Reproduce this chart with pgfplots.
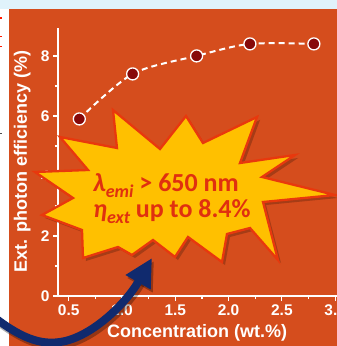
\documentclass[border=0pt]{standalone}
\usepackage{pgfplots}
\pgfplotsset{compat=1.18}
\usepackage{fontspec}
\setmainfont{Liberation Sans}
\newfontfamily\calfont{Carlito}
\usetikzlibrary{arrows.meta}
\definecolor{bgorange}{HTML}{D54D1D}
\definecolor{topblue}{HTML}{E0F2FB}
\definecolor{mkred}{HTML}{870A0A}
\definecolor{starfill}{HTML}{FFC000}
\definecolor{staredge}{HTML}{E8380D}
\definecolor{startext}{HTML}{E0300F}
\definecolor{navy}{HTML}{102A6E}
\tikzset{starp/.style={insert path={(113,-110) -- (160,-149) -- (186,-116) -- (203,-143) -- (257,-117) -- (240,-163) -- (295,-155) -- (262,-177) -- (335,-195) -- (263,-202) -- (278,-260) -- (250,-228) -- (227,-234) -- (222,-262) -- (188,-237) -- (175,-257) -- (153,-240) -- (132,-255) -- (118,-247) -- (83,-258) -- (82,-230) -- (42,-215) -- (73,-198) -- (35,-172) -- (88,-170) -- (60,-137) -- (117,-148) -- cycle}}}
\begin{document}
\begin{tikzpicture}[x=1pt,y=1pt]
\useasboundingbox (-58pt,296pt) rectangle (279pt,-50pt);
\clip (-58pt,296pt) rectangle (279pt,-50pt);
\begin{scope}[shift={(-58pt,296pt)}]
\fill[white] (0,0) rectangle (337,-346);
\fill[topblue] (0,0) rectangle (337,-9);
\fill[bgorange] (9,-9) rectangle (337,-346);
\fill[red!80!orange] (0,-17.5) rectangle (2,-19);
\fill[red!80!orange] (0,-36) rectangle (2,-37.5);
\fill[red!80!orange] (0,-46) rectangle (2,-47.5);
\fill[black!70] (0,-133) rectangle (2,-134.5);
\end{scope}
\begin{axis}[
  scale only axis, width=280.4pt, height=268pt,
  xmin=0.4, xmax=3.03, ymin=0, ymax=8.93,
  axis lines*=left,
  axis line style={white, line width=1.5pt},
  every tick/.style={white, line width=1.2pt},
  tick align=outside,
  major tick length=5pt, minor tick length=3pt,
  xtick={0.5,1.0,1.5,2.0,2.5,3.0},
  minor x tick num=1,
  ytick={0,2,4,6,8},
  minor y tick num=1,
  /pgf/number format/assume math mode=true,
  ticklabel style={text=white, font=\bfseries\fontsize{15.5}{15.5}\selectfont},
  xticklabel style={/pgf/number format/.cd, fixed, fixed zerofill, precision=1},
  yticklabel style={/pgf/number format/.cd, fixed, precision=0},
  xlabel={Concentration (wt.\%)},
  ylabel={Ext. photon efficiency (\%)},
  xlabel style={at={(rel axis cs:0.496,-0.138)}, anchor=center, text=white, font=\bfseries\fontsize{18}{18}\selectfont},
  ylabel style={at={(rel axis cs:-0.128,0.502)}, anchor=center, text=white, font=\bfseries\fontsize{18}{18}\selectfont},
  clip=false,
]
\addplot[white, line width=2pt, dash pattern=on 6pt off 4pt, smooth,
  mark=*, mark size=6pt, mark options={solid, fill=mkred, draw=white, line width=1.3pt}]
  coordinates {(0.6,5.9) (1.1,7.4) (1.7,8.0) (2.2,8.4) (2.8,8.4)};
\end{axis}
\begin{scope}[shift={(-58pt,296pt)}]
\fill[black, opacity=0.22, shift={(3,-3)}, starp];
\filldraw[fill=starfill, draw=staredge, line width=2.3pt, line join=miter, starp];
\node[anchor=base west, text=startext, inner sep=0] at (93,-192)
  {\calfont\bfseries\fontsize{26}{26}\selectfont\itshape λ\raisebox{-0.22em}{\fontsize{18}{18}\selectfont emi}\upshape{} > 650 nm};
\node[anchor=base west, text=startext, inner sep=0] at (93,-218)
  {\calfont\bfseries\fontsize{26}{26}\selectfont\itshape η\raisebox{-0.22em}{\fontsize{18}{18}\selectfont ext}\upshape{} up to 8.4\%};
\draw[black, opacity=0.3, line width=8pt, -{Triangle[length=28pt,width=27pt]}, shift={(2,-3)}]
  (-10,-314) .. controls (20,-338) and (40,-345) .. (60,-342) .. controls (90,-338) and (125,-305) .. (152,-258);
\draw[navy, line width=8pt, -{Triangle[length=28pt,width=27pt]}]
  (-10,-314) .. controls (20,-338) and (40,-345) .. (60,-342) .. controls (90,-338) and (125,-305) .. (152,-258);
\end{scope}
\end{tikzpicture}
\end{document}
